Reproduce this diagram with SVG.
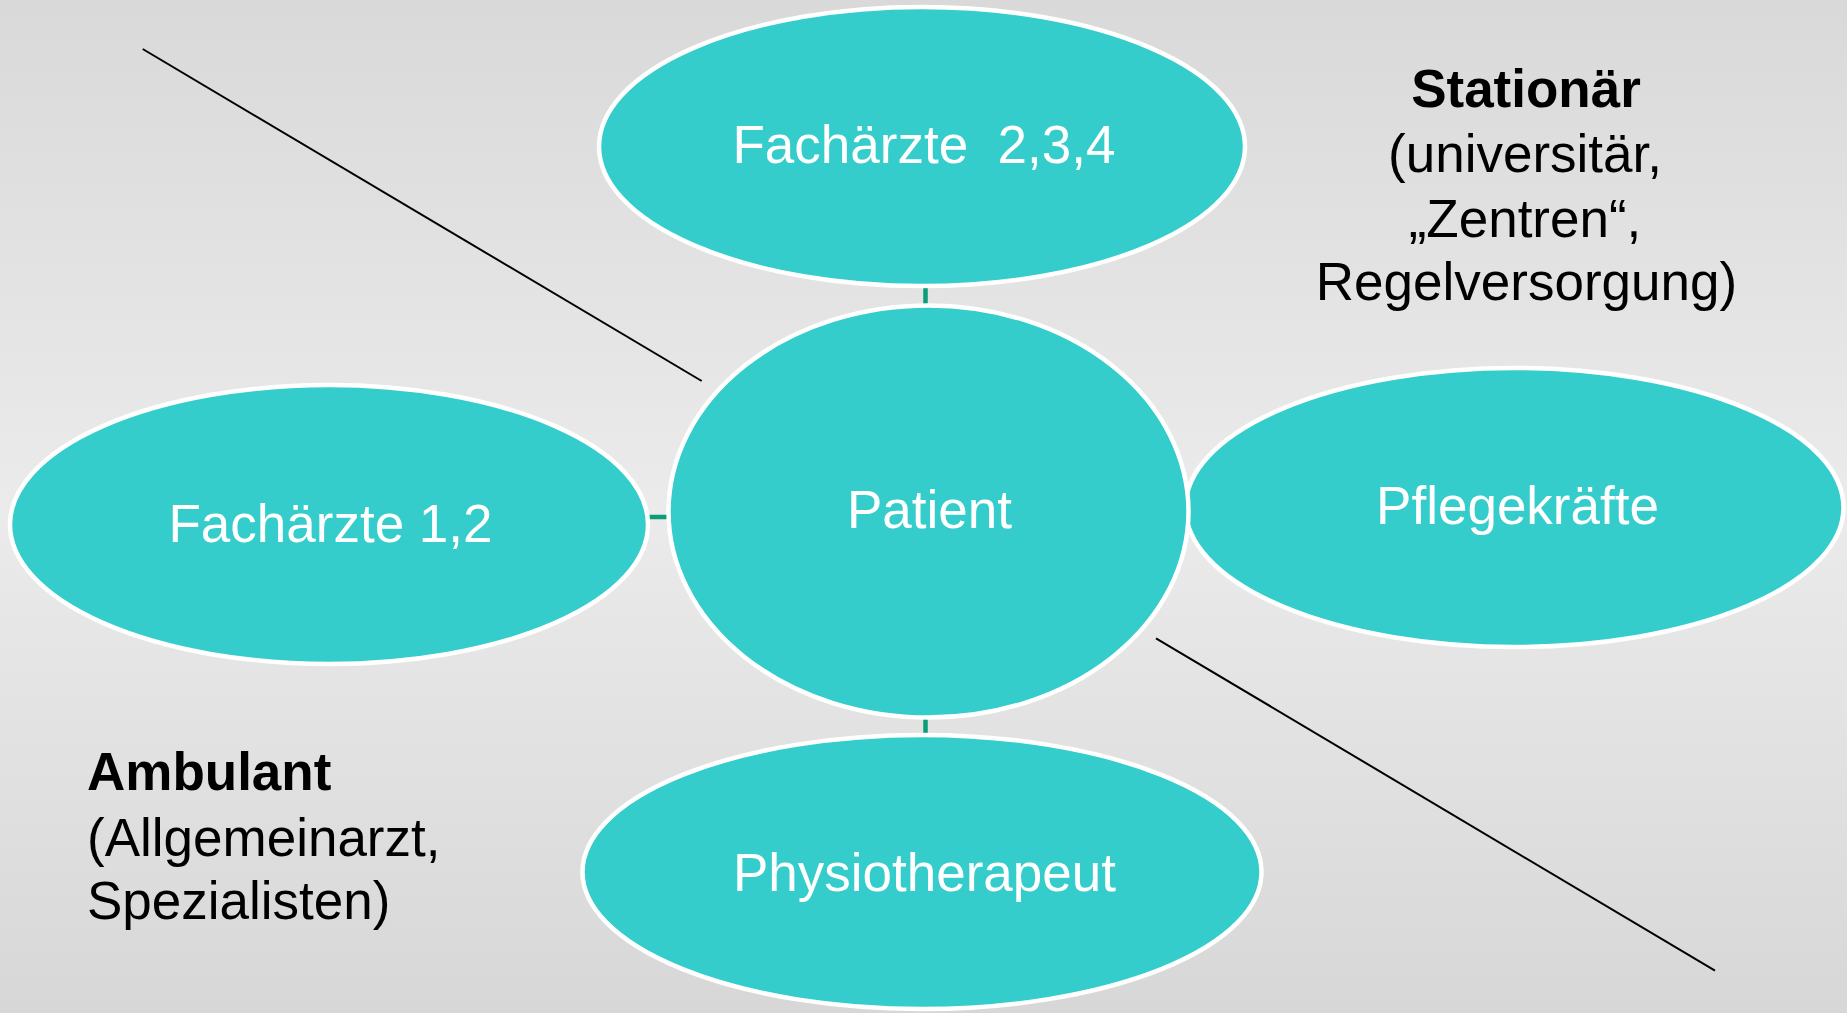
<svg xmlns="http://www.w3.org/2000/svg" width="1847" height="1013" viewBox="0 0 1847 1013">
  <defs>
    <linearGradient id="bg" x1="0" y1="0" x2="0" y2="1">
      <stop offset="0" stop-color="#d9d9d9"/>
      <stop offset="0.5" stop-color="#ebebeb"/>
      <stop offset="1" stop-color="#d7d7d7"/>
    </linearGradient>
  </defs>
  <style>
    .node { fill: #35cccc; stroke: #ffffff; stroke-width: 4.5; }
    .lbl { font-family: "Liberation Sans", Arial, sans-serif; font-size: 53px; fill: #ffffff; text-anchor: middle; }
    .conn { stroke: #0b9d78; stroke-width: 4.5; fill: none; }
    .div { stroke: #000000; stroke-width: 2; fill: none; }
    .side { font-family: "Liberation Sans", Arial, sans-serif; font-size: 53px; fill: #000000; }
    .b { font-weight: bold; }
  </style>
  <rect x="0" y="0" width="1847" height="1013" fill="url(#bg)"/>

  <g id="dividers">
    <line class="div" x1="142.7" y1="49" x2="701.7" y2="381"/>
    <line class="div" x1="1156" y1="638.3" x2="1715" y2="970.7"/>
  </g>

  <g id="connectors">
    <line class="conn" x1="925.5" y1="287" x2="925.5" y2="306"/>
    <line class="conn" x1="649" y1="517" x2="669" y2="517"/>
    <line class="conn" x1="925.5" y1="716" x2="925.5" y2="734"/>
  </g>

  <g id="node-top">
    <ellipse class="node" cx="922" cy="146.5" rx="323" ry="139.5"/>
    <text class="lbl" x="924" y="163" xml:space="preserve">Fachärzte  2,3,4</text>
  </g>

  <g id="node-left">
    <ellipse class="node" cx="329" cy="524.5" rx="319" ry="139.5"/>
    <text class="lbl" x="330.5" y="542">Fachärzte 1,2</text>
  </g>

  <g id="node-right">
    <ellipse class="node" cx="1514.5" cy="507.5" rx="329" ry="139.5"/>
    <text class="lbl" x="1517.5" y="524">Pflegekräfte</text>
  </g>

  <g id="node-bottom">
    <ellipse class="node" cx="922" cy="872" rx="339.5" ry="137"/>
    <text class="lbl" x="924.5" y="891">Physiotherapeut</text>
  </g>

  <g id="node-patient">
    <ellipse class="node" cx="928.5" cy="511.5" rx="260" ry="206"/>
    <text class="lbl" x="929.5" y="528">Patient</text>
  </g>

  <g id="label-stationaer" class="side" text-anchor="middle">
    <text class="b" x="1526" y="107">Stationär</text>
    <text x="1525" y="172">(universitär,</text>
    <text x="1525" y="237">„Zentren“,</text>
    <text x="1526.5" y="300">Regelversorgung)</text>
  </g>

  <g id="label-ambulant" class="side">
    <text class="b" x="87" y="790">Ambulant</text>
    <text x="87" y="856">(Allgemeinarzt,</text>
    <text x="87" y="919">Spezialisten)</text>
  </g>
</svg>
